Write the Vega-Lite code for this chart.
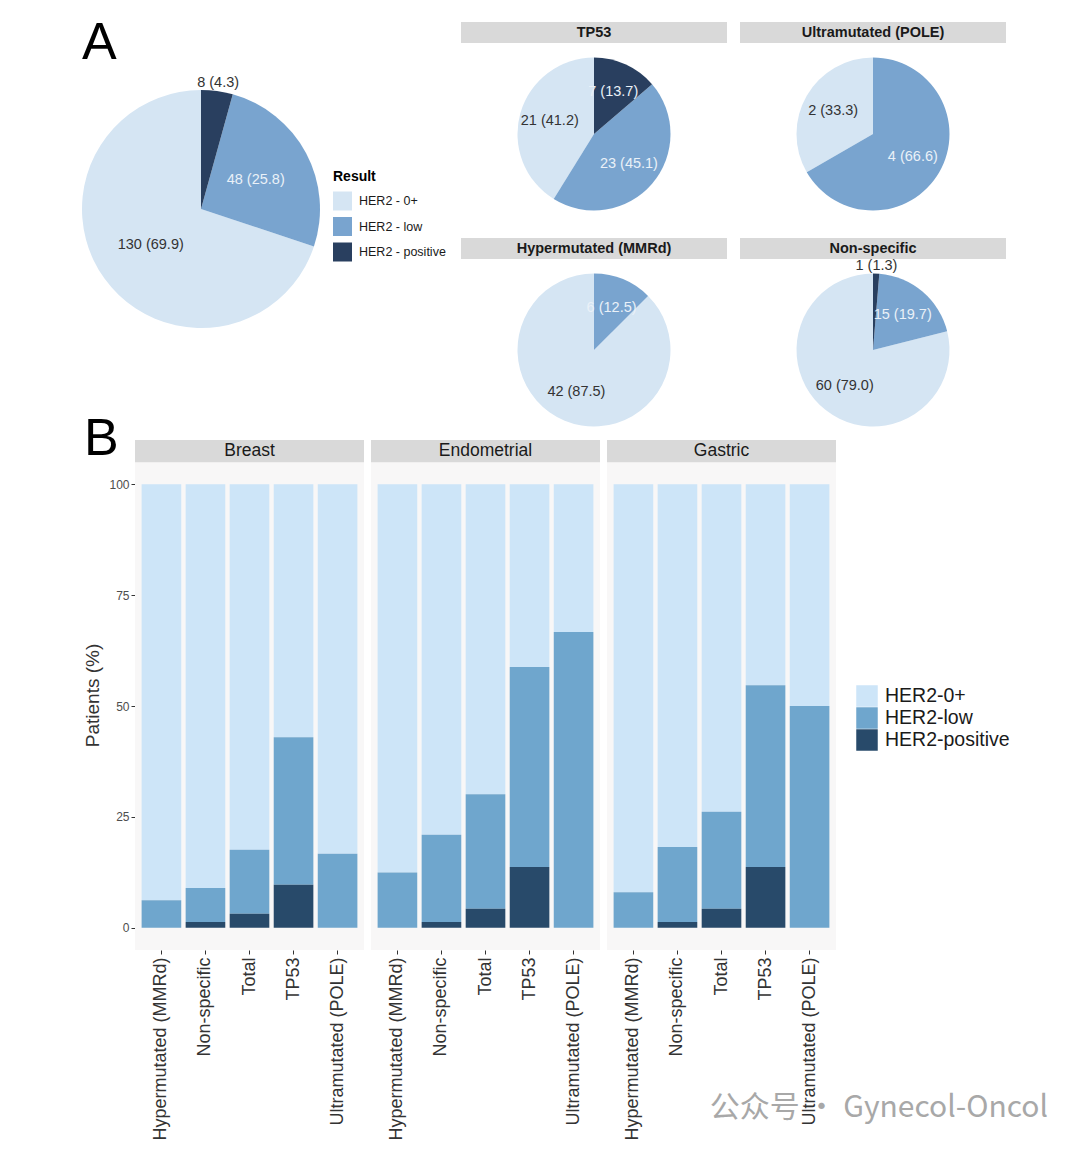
{
  "$schema": "https://vega.github.io/schema/vega-lite/v6.json",
  "padding": {"left": 82, "top": 17, "right": 0, "bottom": 0},
  "config": {
    "font": "Liberation Sans",
    "view": {"stroke": null},
    "text": {"font": "Liberation Sans"},
    "axis": {"labelFont": "Liberation Sans", "titleFont": "Liberation Sans"},
    "legend": {"labelFont": "Liberation Sans", "titleFont": "Liberation Sans"},
    "title": {"font": "Liberation Sans"}
  },
  "datasets": {
    "pie_total": [
      {"result": "HER2 - 0+", "n": 130, "pct": 69.9, "label": "130 (69.9)"},
      {"result": "HER2 - low", "n": 48, "pct": 25.8, "label": "48 (25.8)"},
      {"result": "HER2 - positive", "n": 8, "pct": 4.3, "label": "8 (4.3)"}
    ],
    "pie_groups": [
      {"group": "TP53", "result": "HER2 - 0+", "n": 21, "pct": 41.2, "label": "21 (41.2)"},
      {"group": "TP53", "result": "HER2 - low", "n": 23, "pct": 45.1, "label": "23 (45.1)"},
      {"group": "TP53", "result": "HER2 - positive", "n": 7, "pct": 13.7, "label": "7 (13.7)"},
      {"group": "Ultramutated (POLE)", "result": "HER2 - 0+", "n": 2, "pct": 33.3, "label": "2 (33.3)"},
      {"group": "Ultramutated (POLE)", "result": "HER2 - low", "n": 4, "pct": 66.6, "label": "4 (66.6)"},
      {"group": "Hypermutated (MMRd)", "result": "HER2 - 0+", "n": 42, "pct": 87.5, "label": "42 (87.5)"},
      {"group": "Hypermutated (MMRd)", "result": "HER2 - low", "n": 6, "pct": 12.5, "label": "6 (12.5)"},
      {"group": "Non-specific", "result": "HER2 - 0+", "n": 60, "pct": 79.0, "label": "60 (79.0)"},
      {"group": "Non-specific", "result": "HER2 - low", "n": 15, "pct": 19.7, "label": "15 (19.7)"},
      {"group": "Non-specific", "result": "HER2 - positive", "n": 1, "pct": 1.3, "label": "1 (1.3)"}
    ],
    "bars": [
      {"cancer": "Breast", "group": "Hypermutated (MMRd)", "result": "HER2-0+", "pct": 93.8},
      {"cancer": "Breast", "group": "Hypermutated (MMRd)", "result": "HER2-low", "pct": 6.2},
      {"cancer": "Breast", "group": "Non-specific", "result": "HER2-0+", "pct": 91.0},
      {"cancer": "Breast", "group": "Non-specific", "result": "HER2-low", "pct": 7.7},
      {"cancer": "Breast", "group": "Non-specific", "result": "HER2-positive", "pct": 1.3},
      {"cancer": "Breast", "group": "Total", "result": "HER2-0+", "pct": 82.4},
      {"cancer": "Breast", "group": "Total", "result": "HER2-low", "pct": 14.4},
      {"cancer": "Breast", "group": "Total", "result": "HER2-positive", "pct": 3.2},
      {"cancer": "Breast", "group": "TP53", "result": "HER2-0+", "pct": 57.0},
      {"cancer": "Breast", "group": "TP53", "result": "HER2-low", "pct": 33.3},
      {"cancer": "Breast", "group": "TP53", "result": "HER2-positive", "pct": 9.7},
      {"cancer": "Breast", "group": "Ultramutated (POLE)", "result": "HER2-0+", "pct": 83.3},
      {"cancer": "Breast", "group": "Ultramutated (POLE)", "result": "HER2-low", "pct": 16.7},
      {"cancer": "Endometrial", "group": "Hypermutated (MMRd)", "result": "HER2-0+", "pct": 87.5},
      {"cancer": "Endometrial", "group": "Hypermutated (MMRd)", "result": "HER2-low", "pct": 12.5},
      {"cancer": "Endometrial", "group": "Non-specific", "result": "HER2-0+", "pct": 79.0},
      {"cancer": "Endometrial", "group": "Non-specific", "result": "HER2-low", "pct": 19.7},
      {"cancer": "Endometrial", "group": "Non-specific", "result": "HER2-positive", "pct": 1.3},
      {"cancer": "Endometrial", "group": "Total", "result": "HER2-0+", "pct": 69.9},
      {"cancer": "Endometrial", "group": "Total", "result": "HER2-low", "pct": 25.8},
      {"cancer": "Endometrial", "group": "Total", "result": "HER2-positive", "pct": 4.3},
      {"cancer": "Endometrial", "group": "TP53", "result": "HER2-0+", "pct": 41.2},
      {"cancer": "Endometrial", "group": "TP53", "result": "HER2-low", "pct": 45.1},
      {"cancer": "Endometrial", "group": "TP53", "result": "HER2-positive", "pct": 13.7},
      {"cancer": "Endometrial", "group": "Ultramutated (POLE)", "result": "HER2-0+", "pct": 33.3},
      {"cancer": "Endometrial", "group": "Ultramutated (POLE)", "result": "HER2-low", "pct": 66.7},
      {"cancer": "Gastric", "group": "Hypermutated (MMRd)", "result": "HER2-0+", "pct": 92.0},
      {"cancer": "Gastric", "group": "Hypermutated (MMRd)", "result": "HER2-low", "pct": 8.0},
      {"cancer": "Gastric", "group": "Non-specific", "result": "HER2-0+", "pct": 81.8},
      {"cancer": "Gastric", "group": "Non-specific", "result": "HER2-low", "pct": 16.9},
      {"cancer": "Gastric", "group": "Non-specific", "result": "HER2-positive", "pct": 1.3},
      {"cancer": "Gastric", "group": "Total", "result": "HER2-0+", "pct": 73.8},
      {"cancer": "Gastric", "group": "Total", "result": "HER2-low", "pct": 21.9},
      {"cancer": "Gastric", "group": "Total", "result": "HER2-positive", "pct": 4.3},
      {"cancer": "Gastric", "group": "TP53", "result": "HER2-0+", "pct": 45.3},
      {"cancer": "Gastric", "group": "TP53", "result": "HER2-low", "pct": 41.0},
      {"cancer": "Gastric", "group": "TP53", "result": "HER2-positive", "pct": 13.7},
      {"cancer": "Gastric", "group": "Ultramutated (POLE)", "result": "HER2-0+", "pct": 50.0},
      {"cancer": "Gastric", "group": "Ultramutated (POLE)", "result": "HER2-low", "pct": 50.0}
    ]
  },
  "title": {"text": "公众号 · Gynecol-Oncol", "orient": "bottom", "anchor": "end", "fontSize": 30, "fontWeight": "normal", "font": "Noto Sans CJK SC", "color": "#a8a8a8", "baseline": "alphabetic", "offset": -23, "dx": 38},
  "align": "none",
  "spacing": -22,
  "resolve": {"scale": {"color": "independent"}, "legend": {"color": "independent"}},
  "vconcat": [
    {
      "title": {"text": "A", "anchor": "start", "fontSize": 52, "fontWeight": "normal", "color": "#000000", "baseline": "alphabetic", "offset": -89},
      "spacing": 15,
      "resolve": {"legend": {"color": "independent"}},
      "hconcat": [
        {
          "width": 132, "height": 374,
          "view": {"stroke": null},
          "data": {"name": "pie_total"},
          "layer": [
            {"mark": {"type": "arc", "radius": 119},
             "encoding": {
               "theta": {"field": "n", "type": "quantitative", "stack": "normalize"},
               "order": {"field": "result", "sort": "descending"},
               "color": {"field": "result", "type": "nominal",
                 "scale": {"domain": ["HER2 - 0+", "HER2 - low", "HER2 - positive"], "range": ["#d5e5f3", "#79a4cf", "#293f5f"]},
                 "legend": {"title": "Result", "orient": "none", "legendX": 198, "legendY": 148, "titleFontSize": 14, "titleFontWeight": "bold", "titleColor": "#000000", "titlePadding": 7.5, "labelFontSize": 12.5, "labelColor": "#1a1a1a", "symbolType": "square", "symbolSize": 361, "symbolStrokeWidth": 0, "symbolOpacity": 1, "rowPadding": 6.5, "labelOffset": 7, "padding": 0}}}},
            {"mark": {"type": "text", "radius": 62, "fontSize": 14.5},
             "encoding": {
               "theta": {"field": "n", "type": "quantitative", "stack": "normalize"},
               "order": {"field": "result", "sort": "descending"},
               "text": {"condition": {"test": "datum.pct >= 5", "field": "label", "type": "nominal"}, "value": ""},
               "color": {"condition": {"test": "datum.result === 'HER2 - 0+'", "value": "#333333"}, "value": "#eaf1f8"}}},
            {"mark": {"type": "text", "radius": 127, "fontSize": 14.5, "color": "#333333"},
             "encoding": {
               "theta": {"field": "n", "type": "quantitative", "stack": "normalize"},
               "order": {"field": "result", "sort": "descending"},
               "text": {"condition": {"test": "datum.pct < 5", "field": "label", "type": "nominal"}, "value": ""}}}
          ]
        },
        {
          "spacing": 27,
          "vconcat": [
            {"spacing": 13, "hconcat": [
              {"bounds": "flush", "spacing": 14, "vconcat": [
                {"width": 266, "height": 21, "view": {"fill": "#d9d9d9", "stroke": null}, "data": {"name": "pie_groups"},
                 "transform": [{"filter": "datum.group === 'TP53' && datum.result === 'HER2 - 0+'"}],
                 "mark": {"type": "text", "fontSize": 14.5, "fontWeight": "bold", "color": "#1a1a1a"},
                 "encoding": {"text": {"field": "group", "type": "nominal"}}},
                {"width": 266, "height": 154, "view": {"stroke": null}, "data": {"name": "pie_groups"},
                 "transform": [{"filter": "datum.group === 'TP53'"}],
                 "layer": [
                   {"mark": {"type": "arc", "radius": 76.5}, "encoding": {"theta": {"field": "n", "type": "quantitative", "stack": "normalize"}, "order": {"field": "result", "sort": "descending"}, "color": {"field": "result", "type": "nominal", "scale": {"domain": ["HER2 - 0+", "HER2 - low", "HER2 - positive"], "range": ["#d5e5f3", "#79a4cf", "#293f5f"]}, "legend": null}}},
                   {"mark": {"type": "text", "radius": 46, "fontSize": 14.5}, "encoding": {"theta": {"field": "n", "type": "quantitative", "stack": "normalize"}, "order": {"field": "result", "sort": "descending"}, "text": {"condition": {"test": "datum.pct >= 5", "field": "label", "type": "nominal"}, "value": ""}, "color": {"condition": {"test": "datum.result === 'HER2 - 0+'", "value": "#333333"}, "value": "#eaf1f8"}}},
                   {"mark": {"type": "text", "radius": 84, "fontSize": 14.5, "color": "#333333"}, "encoding": {"theta": {"field": "n", "type": "quantitative", "stack": "normalize"}, "order": {"field": "result", "sort": "descending"}, "text": {"condition": {"test": "datum.pct < 5", "field": "label", "type": "nominal"}, "value": ""}}}
                 ]}
              ]},
              {"bounds": "flush", "spacing": 14, "vconcat": [
                {"width": 266, "height": 21, "view": {"fill": "#d9d9d9", "stroke": null}, "data": {"name": "pie_groups"},
                 "transform": [{"filter": "datum.group === 'Ultramutated (POLE)' && datum.result === 'HER2 - 0+'"}],
                 "mark": {"type": "text", "fontSize": 14.5, "fontWeight": "bold", "color": "#1a1a1a"},
                 "encoding": {"text": {"field": "group", "type": "nominal"}}},
                {"width": 266, "height": 154, "view": {"stroke": null}, "data": {"name": "pie_groups"},
                 "transform": [{"filter": "datum.group === 'Ultramutated (POLE)'"}],
                 "layer": [
                   {"mark": {"type": "arc", "radius": 76.5}, "encoding": {"theta": {"field": "n", "type": "quantitative", "stack": "normalize"}, "order": {"field": "result", "sort": "descending"}, "color": {"field": "result", "type": "nominal", "scale": {"domain": ["HER2 - 0+", "HER2 - low", "HER2 - positive"], "range": ["#d5e5f3", "#79a4cf", "#293f5f"]}, "legend": null}}},
                   {"mark": {"type": "text", "radius": 46, "fontSize": 14.5}, "encoding": {"theta": {"field": "n", "type": "quantitative", "stack": "normalize"}, "order": {"field": "result", "sort": "descending"}, "text": {"condition": {"test": "datum.pct >= 5", "field": "label", "type": "nominal"}, "value": ""}, "color": {"condition": {"test": "datum.result === 'HER2 - 0+'", "value": "#333333"}, "value": "#eaf1f8"}}},
                   {"mark": {"type": "text", "radius": 84, "fontSize": 14.5, "color": "#333333"}, "encoding": {"theta": {"field": "n", "type": "quantitative", "stack": "normalize"}, "order": {"field": "result", "sort": "descending"}, "text": {"condition": {"test": "datum.pct < 5", "field": "label", "type": "nominal"}, "value": ""}}}
                 ]}
              ]}
            ]},
            {"spacing": 13, "hconcat": [
              {"bounds": "flush", "spacing": 14, "vconcat": [
                {"width": 266, "height": 21, "view": {"fill": "#d9d9d9", "stroke": null}, "data": {"name": "pie_groups"},
                 "transform": [{"filter": "datum.group === 'Hypermutated (MMRd)' && datum.result === 'HER2 - 0+'"}],
                 "mark": {"type": "text", "fontSize": 14.5, "fontWeight": "bold", "color": "#1a1a1a"},
                 "encoding": {"text": {"field": "group", "type": "nominal"}}},
                {"width": 266, "height": 154, "view": {"stroke": null}, "data": {"name": "pie_groups"},
                 "transform": [{"filter": "datum.group === 'Hypermutated (MMRd)'"}],
                 "layer": [
                   {"mark": {"type": "arc", "radius": 76.5}, "encoding": {"theta": {"field": "n", "type": "quantitative", "stack": "normalize"}, "order": {"field": "result", "sort": "descending"}, "color": {"field": "result", "type": "nominal", "scale": {"domain": ["HER2 - 0+", "HER2 - low", "HER2 - positive"], "range": ["#d5e5f3", "#79a4cf", "#293f5f"]}, "legend": null}}},
                   {"mark": {"type": "text", "radius": 46, "fontSize": 14.5}, "encoding": {"theta": {"field": "n", "type": "quantitative", "stack": "normalize"}, "order": {"field": "result", "sort": "descending"}, "text": {"condition": {"test": "datum.pct >= 5", "field": "label", "type": "nominal"}, "value": ""}, "color": {"condition": {"test": "datum.result === 'HER2 - 0+'", "value": "#333333"}, "value": "#eaf1f8"}}},
                   {"mark": {"type": "text", "radius": 84, "fontSize": 14.5, "color": "#333333"}, "encoding": {"theta": {"field": "n", "type": "quantitative", "stack": "normalize"}, "order": {"field": "result", "sort": "descending"}, "text": {"condition": {"test": "datum.pct < 5", "field": "label", "type": "nominal"}, "value": ""}}}
                 ]}
              ]},
              {"bounds": "flush", "spacing": 14, "vconcat": [
                {"width": 266, "height": 21, "view": {"fill": "#d9d9d9", "stroke": null}, "data": {"name": "pie_groups"},
                 "transform": [{"filter": "datum.group === 'Non-specific' && datum.result === 'HER2 - 0+'"}],
                 "mark": {"type": "text", "fontSize": 14.5, "fontWeight": "bold", "color": "#1a1a1a"},
                 "encoding": {"text": {"field": "group", "type": "nominal"}}},
                {"width": 266, "height": 154, "view": {"stroke": null}, "data": {"name": "pie_groups"},
                 "transform": [{"filter": "datum.group === 'Non-specific'"}],
                 "layer": [
                   {"mark": {"type": "arc", "radius": 76.5}, "encoding": {"theta": {"field": "n", "type": "quantitative", "stack": "normalize"}, "order": {"field": "result", "sort": "descending"}, "color": {"field": "result", "type": "nominal", "scale": {"domain": ["HER2 - 0+", "HER2 - low", "HER2 - positive"], "range": ["#d5e5f3", "#79a4cf", "#293f5f"]}, "legend": null}}},
                   {"mark": {"type": "text", "radius": 46, "fontSize": 14.5}, "encoding": {"theta": {"field": "n", "type": "quantitative", "stack": "normalize"}, "order": {"field": "result", "sort": "descending"}, "text": {"condition": {"test": "datum.pct >= 5", "field": "label", "type": "nominal"}, "value": ""}, "color": {"condition": {"test": "datum.result === 'HER2 - 0+'", "value": "#333333"}, "value": "#eaf1f8"}}},
                   {"mark": {"type": "text", "radius": 84, "fontSize": 14.5, "color": "#333333"}, "encoding": {"theta": {"field": "n", "type": "quantitative", "stack": "normalize"}, "order": {"field": "result", "sort": "descending"}, "text": {"condition": {"test": "datum.pct < 5", "field": "label", "type": "nominal"}, "value": ""}}}
                 ]}
              ]}
            ]}
          ]
        }
      ]
    },
    {
      "title": {"text": "B", "anchor": "start", "fontSize": 52, "fontWeight": "normal", "color": "#000000", "baseline": "alphabetic", "offset": -67},
      "data": {"name": "bars"},
      "facet": {"column": {"field": "cancer", "type": "nominal", "header": null, "sort": ["Breast", "Endometrial", "Gastric"]}},
      "spacing": 7,
      "spec": {
        "width": 229, "height": 510,
        "view": {"fill": "#f8f7f7", "stroke": null},
        "layer": [
          {"transform": [{"filter": "datum.group === 'Total' && datum.result === 'HER2-0+'"}],
           "mark": {"type": "rect", "color": "#d9d9d9"},
           "encoding": {"x": {"value": 0}, "x2": {"value": "width"}, "y": {"datum": 105, "type": "quantitative", "title": "Patients (%)"}, "y2": {"datum": 110}}},
          {"transform": [{"filter": "datum.group === 'Total' && datum.result === 'HER2-0+'"}],
           "mark": {"type": "text", "fontSize": 17.5, "color": "#1a1a1a"},
           "encoding": {"y": {"datum": 107.5, "type": "quantitative", "title": "Patients (%)"}, "text": {"field": "cancer", "type": "nominal"}}},
          {"mark": {"type": "bar"},
           "encoding": {
             "x": {"field": "group", "type": "nominal", "sort": ["Hypermutated (MMRd)", "Non-specific", "Total", "TP53", "Ultramutated (POLE)"],
               "scale": {"paddingInner": 0.1, "paddingOuter": 0.15},
               "axis": {"title": null, "labelAngle": -90, "labelFontSize": 18, "labelLimit": 0, "labelColor": "#333333", "tickColor": "#333333", "tickSize": 4, "labelPadding": 3, "domain": false, "grid": false}},
             "y": {"field": "pct", "type": "quantitative", "stack": "zero", "title": "Patients (%)",
               "scale": {"domain": [-5, 110], "nice": false, "zero": false},
               "axis": {"values": [0, 25, 50, 75, 100], "labelFontSize": 12, "labelColor": "#4d4d4d", "tickColor": "#333333", "tickSize": 4, "labelPadding": 2, "domain": false, "grid": false, "titleFontSize": 19, "titleFontWeight": "normal", "titleColor": "#333333", "titlePadding": 6}},
             "color": {"field": "result", "type": "nominal",
               "scale": {"domain": ["HER2-0+", "HER2-low", "HER2-positive"], "range": ["#cde5f8", "#6fa6cd", "#284a6a"]},
               "legend": {"title": null, "orient": "none", "legendX": 721, "legendY": 245, "labelFontSize": 19.5, "labelColor": "#1a1a1a", "symbolType": "square", "symbolSize": 462, "symbolStrokeWidth": 0, "symbolOpacity": 1, "rowPadding": 0, "labelOffset": 7, "padding": 0}},
             "order": {"field": "result", "sort": "descending"}}}
        ]
      }
    }
  ]
}
